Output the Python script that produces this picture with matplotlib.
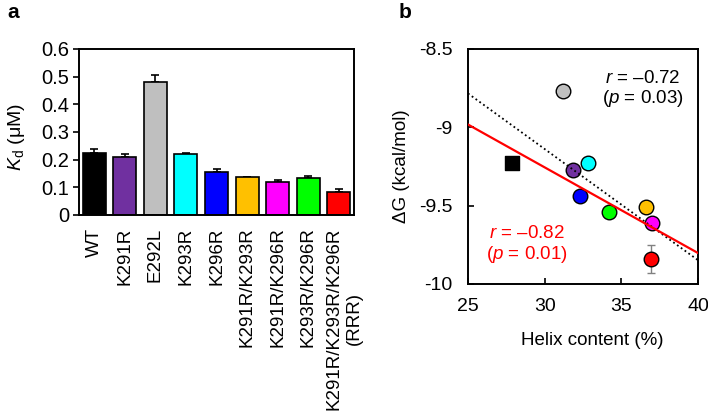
#!/usr/bin/env python
# -*- coding: utf-8 -*-

"""Kd de mutantes y correlacion entre contenido de helice y dG"""

import numpy as np
from matplotlib import pyplot as plt
from matplotlib.transforms import ScaledTranslation

plt.rcParams["font.family"] = ["Liberation Sans", "DejaVu Sans"]
plt.rcParams["axes.unicode_minus"] = False
plt.rcParams["mathtext.fontset"] = "custom"
plt.rcParams["mathtext.rm"] = "Liberation Sans"
plt.rcParams["mathtext.it"] = "Liberation Sans:italic"

# datos
mutantes = ["WT", "K291R", "E292L", "K293R", "K296R", "K291R/K293R",
            "K291R/K296R", "K293R/K296R", "K291R/K293R/K296R\n(RRR)"]
colores = ["#000000", "#7030A0", "#BFBFBF", "#00FFFF", "#0000FF",
           "#FFC000", "#FF00FF", "#00FF00", "#FF0000"]
kd = [0.223, 0.209, 0.481, 0.221, 0.156, 0.138, 0.118, 0.133, 0.083]
kd_err = [0.014, 0.012, 0.026, 0.004, 0.010, 0.0, 0.009, 0.009, 0.012]

helice = [27.9, 31.83, 31.2, 32.85, 32.3, 36.6, 37.0, 34.2, 36.94]
dg = [-9.23, -9.27, -8.77, -9.23, -9.44, -9.51, -9.61, -9.54, -9.84]
dg_err = [0.02, 0.02, 0.02, 0.02, 0.02, 0.02, 0.03, 0.02, 0.09]

FS = 13.5

fig = plt.figure(figsize=(7.08, 4.15), dpi=100)

# ---- panel a ----
ax1 = fig.add_axes([0.1116, 0.482, 0.3884, 0.400])
x = np.arange(len(mutantes))
ax1.bar(x, kd, width=0.75, color=colores, edgecolor="black", linewidth=1.2, zorder=2)
ax1.errorbar(x, kd, yerr=[np.zeros(len(kd)), kd_err], fmt="none", ecolor="black",
             elinewidth=1.2, capsize=3, capthick=1.2, zorder=1)
ax1.set_xlim(-0.5, len(mutantes) - 0.5)
ax1.set_ylim(0, 0.6)
ax1.set_yticks([0, 0.1, 0.2, 0.3, 0.4, 0.5, 0.6])
ax1.set_yticklabels(["0", "0.1", "0.2", "0.3", "0.4", "0.5", "0.6"])
ax1.set_xticks(x)
ax1.set_xticklabels(mutantes, rotation=90, ha="center", va="top", multialignment="center")
ax1.tick_params(axis="x", length=0, pad=9, labelsize=FS)
ax1.tick_params(axis="y", direction="out", length=4, width=1.2, pad=3, labelsize=14.5)
# la etiqueta de dos lineas se corre un poco para que la primera quede bajo la barra
ultima = ax1.get_xticklabels()[-1]
ultima.set_transform(ultima.get_transform() + ScaledTranslation(4 / 72, 0, fig.dpi_scale_trans))
ax1.set_ylabel("$K_\\mathrm{d}$ (\u03bcM)", fontsize=14)
ax1.yaxis.set_label_coords(-0.19, 0.47)
for s in ax1.spines.values():
	s.set_linewidth(1.4)

# ---- panel b ----
ax2 = fig.add_axes([0.661, 0.316, 0.325, 0.566])
for xi, yi, ei, c, m in zip(helice, dg, dg_err, colores, mutantes):
	ax2.errorbar(xi, yi, yerr=ei, fmt="none", ecolor="#808080", elinewidth=1,
				 capsize=3, capthick=1, zorder=2)
	ax2.scatter(xi, yi, s=110 if m != "WT" else 95, marker="s" if m == "WT" else "o",
				color=c, edgecolor="black", linewidth=1, zorder=3)

xx = np.array([25, 40])
# ajuste con todos los puntos (linea punteada)
p_all = np.polyfit(helice, dg, 1)
ax2.plot(xx, np.polyval(p_all, xx), ls=(0, (1, 1.6)), color="black", lw=1.3, zorder=4)
# ajuste sin E292L (linea roja)
sel = [i for i, m in enumerate(mutantes) if m != "E292L"]
p_sel = np.polyfit([helice[i] for i in sel], [dg[i] for i in sel], 1)
ax2.plot(xx, np.polyval(p_sel, xx), color="red", lw=1.6, zorder=4)

ax2.set_xlim(25, 40)
ax2.set_ylim(-10, -8.5)
ax2.set_xticks([25, 30, 35, 40])
ax2.set_yticks([-10, -9.5, -9, -8.5])
ax2.set_yticklabels(["-10", "-9.5", "-9", "-8.5"])
ax2.tick_params(direction="in", length=4, width=1.2, labelsize=14)
ax2.tick_params(axis="y", pad=11)
ax2.tick_params(axis="x", pad=10)
ax2.set_xlabel("Helix content (%)", fontsize=FS)
ax2.xaxis.set_label_coords(0.538, -0.205)
ax2.set_ylabel("\u0394G (kcal/mol)", fontsize=FS)
ax2.yaxis.set_label_coords(-0.252, 0.5)
for s in ax2.spines.values():
	s.set_linewidth(1.4)

ax2.text(36.4, -8.76, "$r$ = \u20130.72\n($p$ = 0.03)", color="black", fontsize=FS,
		 ha="center", va="center", multialignment="center", linespacing=1.05)
ax2.text(28.85, -9.75, "$r$ = \u20130.82\n($p$ = 0.01)", color="red", fontsize=FS,
		 ha="center", va="center", multialignment="center", linespacing=1.15)

fig.text(13 / 708, 1 - 13 / 415, "a", fontsize=15, fontweight="bold", ha="center", va="center")
fig.text(405 / 708, 1 - 13 / 415, "b", fontsize=15, fontweight="bold", ha="center", va="center")

fig.savefig("out.png", dpi=100)
